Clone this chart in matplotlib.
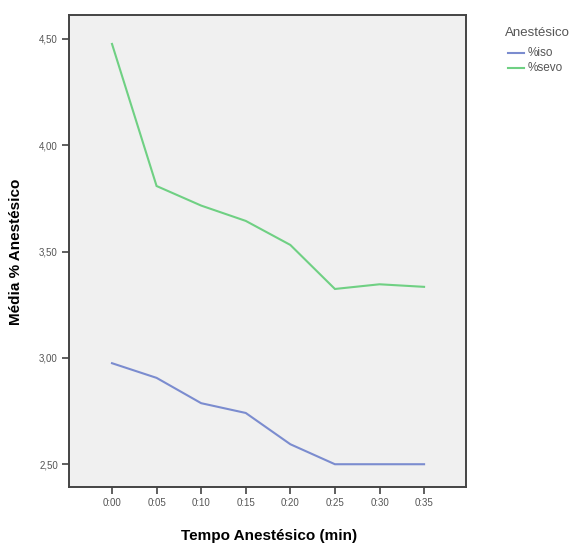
import matplotlib
matplotlib.use("Agg")
import matplotlib.pyplot as plt
from matplotlib.lines import Line2D

plt.rcParams['font.family'] = ['Liberation Sans', 'DejaVu Sans']

# Mean anesthetic concentration per time point
tempos = ["0:00", "0:05", "0:10", "0:15", "0:20", "0:25", "0:30", "0:35"]
iso = [2.975, 2.906, 2.787, 2.741, 2.594, 2.50, 2.50, 2.50]
sevo = [4.476, 3.808, 3.716, 3.644, 3.531, 3.324, 3.346, 3.334]
series_names = ["%iso", "%sevo"]
y_ticks = [2.5, 3.0, 3.5, 4.0, 4.5]

col_iso = "#7b8ccf"
col_sevo = "#6fd083"
W, H = 571, 544

fig = plt.figure(figsize=(W / 100, H / 100), dpi=100)
ax = fig.add_axes([0.1208, 0.1048, 0.6953, 0.8676])
ax.set_facecolor("#f0f0f0")

x = list(range(len(tempos)))
ax.plot(x, iso, color=col_iso, lw=1.5, solid_joinstyle="miter")
ax.plot(x, sevo, color=col_sevo, lw=1.5, solid_joinstyle="miter")

ax.set_xlim(-0.965, 7.94)
ax.set_ylim(2.393, 4.612)
ax.set_xticks(x)
ax.set_xticklabels(tempos)
ax.set_yticks(y_ticks)
ax.set_yticklabels([f"{v:.2f}".replace(".", ",") for v in y_ticks])

for s in ax.spines.values():
    s.set_color("#444444")
    s.set_linewidth(1.4)
ax.tick_params(direction="out", length=5, width=1.2, color="#444444",
               labelsize=7, labelcolor="#555555", pad=3)

ax.set_xlabel("Tempo Anestésico (min)", fontsize=11, fontweight="bold",
              color="black")
ax.set_ylabel("Média % Anestésico", fontsize=11, fontweight="bold",
              color="black")
ax.xaxis.set_label_coords(0.505, -0.09)
ax.yaxis.set_label_coords(-0.116, 0.498)

# Legend drawn in figure pixel coordinates
def fx(px):
    return px / W

def fy(py):
    return 1 - py / H

fig.text(fx(505), fy(33), "Anestésico", fontsize=9.5, color="#555555",
         ha="left", va="center")
for (name, col, py) in zip(series_names, [col_iso, col_sevo], [53, 68]):
    fig.add_artist(Line2D([fx(508), fx(524)], [fy(py), fy(py)],
                          color=col, lw=1.5, transform=fig.transFigure))
    fig.text(fx(528), fy(py), name, fontsize=8.5, color="#555555",
             ha="left", va="center")

fig.savefig("out.png", dpi=100)
